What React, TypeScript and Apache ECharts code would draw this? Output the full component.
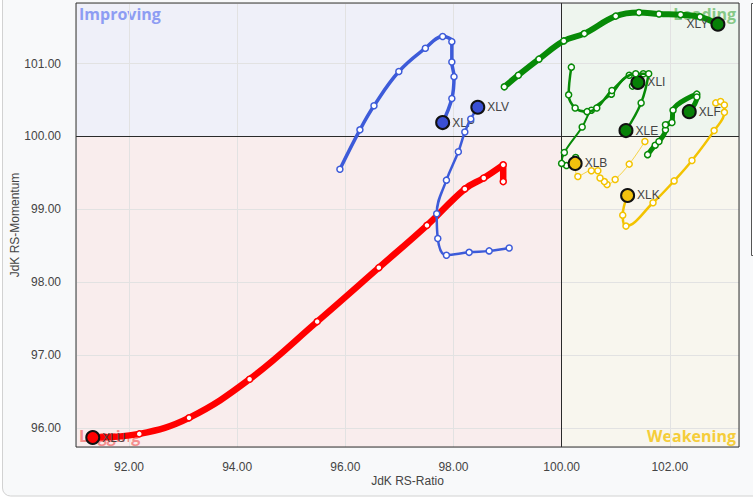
import React, { useEffect, useRef } from "react";
import * as echarts from "echarts";

// Axis bounds (JdK RS-Ratio horizontally, JdK RS-Momentum vertically)
const X_MIN = 91.02;
const X_MAX = 103.28;
const Y_MIN = 95.74;
const Y_MAX = 101.83;
const CENTER = 100;

const QUADRANT_NAMES = ["Improving", "Leading", "Lagging", "Weakening"];

// Trails: oldest point first, last point is the current (head) position
const XLU_RATIO = [98.92, 98.92, 98.56, 98.21, 97.51, 96.62, 95.48, 94.23, 93.11, 92.19, 91.33];
const XLU_MOMENTUM = [99.38, 99.61, 99.43, 99.28, 98.78, 98.2, 97.46, 96.67, 96.14, 95.92, 95.87];

const XLP_RATIO = [95.9, 96.27, 96.53, 96.99, 97.48, 97.8, 97.97, 97.97, 98.01, 97.97, 97.8];
const XLP_MOMENTUM = [99.55, 100.09, 100.42, 100.89, 101.21, 101.37, 101.3, 101.02, 100.82, 100.52, 100.19];

const XLV_RATIO = [99.03, 98.66, 98.29, 97.87, 97.71, 97.69, 97.87, 98.09, 98.21, 98.32, 98.45];
const XLV_MOMENTUM = [98.47, 98.43, 98.41, 98.37, 98.6, 98.94, 99.4, 99.79, 100.06, 100.24, 100.4];

const XLY_RATIO = [98.94, 99.2, 99.58, 100.04, 100.42, 101.0, 101.43, 101.8, 102.2, 102.56, 102.89];
const XLY_MOMENTUM = [100.68, 100.84, 101.06, 101.31, 101.41, 101.65, 101.7, 101.68, 101.67, 101.64, 101.54];

const XLI_RATIO = [100.26, 100.09, 100.0, 100.05, 100.38, 100.55, 100.92, 101.25, 101.51, 101.31, 101.41];
const XLI_MOMENTUM = [99.71, 99.6, 99.63, 99.78, 100.13, 100.36, 100.58, 100.84, 100.86, 100.69, 100.74];

const XLE_RATIO = [100.18, 100.13, 100.25, 100.47, 100.65, 100.93, 101.37, 101.61, 101.47, 101.19];
const XLE_MOMENTUM = [100.95, 100.57, 100.39, 100.34, 100.39, 100.63, 100.86, 100.86, 100.46, 100.08];

const XLF_RATIO = [101.59, 101.73, 101.8, 101.92, 101.92, 102.04, 102.06, 102.5, 102.5, 102.36];
const XLF_MOMENTUM = [99.75, 99.88, 99.93, 100.09, 100.16, 100.19, 100.36, 100.58, 100.54, 100.34];

const XLK_RATIO = [102.85, 102.94, 103.01, 103.01, 102.82, 102.41, 102.08, 101.69, 101.19, 101.13, 101.22];
const XLK_MOMENTUM = [100.46, 100.48, 100.43, 100.33, 100.08, 99.67, 99.39, 99.09, 98.77, 98.92, 99.19];

const XLB_RATIO = [101.54, 101.25, 100.99, 100.84, 100.79, 100.71, 100.67, 100.55, 100.3, 100.25];
const XLB_MOMENTUM = [99.93, 99.62, 99.41, 99.34, 99.38, 99.43, 99.53, 99.53, 99.45, 99.63];

const TICKERS = ["XLU", "XLP", "XLV", "XLY", "XLI", "XLE", "XLF", "XLK", "XLB"];
const RATIOS = [XLU_RATIO, XLP_RATIO, XLV_RATIO, XLY_RATIO, XLI_RATIO, XLE_RATIO, XLF_RATIO, XLK_RATIO, XLB_RATIO];
const MOMENTUMS = [XLU_MOMENTUM, XLP_MOMENTUM, XLV_MOMENTUM, XLY_MOMENTUM, XLI_MOMENTUM, XLE_MOMENTUM, XLF_MOMENTUM, XLK_MOMENTUM, XLB_MOMENTUM];

// styles
const LINE_WIDTH: Record<string, number> = {
  XLU: 6.5, XLP: 3.5, XLV: 2.5, XLY: 6, XLI: 2, XLE: 2.5, XLF: 5, XLK: 2.5, XLB: 1,
};
const LABEL_SIDE: Record<string, string> = { XLY: "left" };
const QUAD_STYLE: Record<string, { line: string; head: string; bg: string; text: string }> = {
  Improving: { line: "#3d5bd9", head: "#3a4fd4", bg: "#eff0f9", text: "#8d9df3" },
  Leading: { line: "#078a07", head: "#078007", bg: "#eef5ee", text: "#86c886" },
  Lagging: { line: "#ff0000", head: "#ff0000", bg: "#f9eded", text: "#f58e8e" },
  Weakening: { line: "#f3c300", head: "#f2c10e", bg: "#f8f6ee", text: "#f5cd3a" },
};
const LINE_ALPHA: Record<string, number> = { XLB: 0.7 };

function quadrantOf(x: number, y: number) {
  if (x >= CENTER && y >= CENTER) return "Leading";
  if (x < CENTER && y >= CENTER) return "Improving";
  if (x < CENTER && y < CENTER) return "Lagging";
  return "Weakening";
}

export default function App() {
  const ref = useRef<HTMLDivElement>(null);
  useEffect(() => {
    if (!ref.current) return;
    const chart = echarts.init(ref.current, undefined, { renderer: "svg" });

    const quadBounds: Record<string, [number, number, number, number]> = {
      Improving: [X_MIN, CENTER, CENTER, Y_MAX],
      Leading: [CENTER, CENTER, X_MAX, Y_MAX],
      Lagging: [X_MIN, Y_MIN, CENTER, CENTER],
      Weakening: [CENTER, Y_MIN, X_MAX, CENTER],
    };
    const quadLabelPos: Record<string, string> = {
      Improving: "insideTopLeft",
      Leading: "insideTopRight",
      Lagging: "insideBottomLeft",
      Weakening: "insideBottomRight",
    };

    const background: any = {
      type: "line",
      name: "quadrants",
      data: [],
      silent: true,
      markArea: {
        silent: true,
        z: 1,
        data: QUADRANT_NAMES.map((q) => {
          const b = quadBounds[q];
          return [
            {
              name: q,
              coord: [b[0], b[1]],
              itemStyle: { color: QUAD_STYLE[q].bg },
              label: {
                show: true,
                position: quadLabelPos[q],
                distance: 3,
                color: QUAD_STYLE[q].text,
                fontFamily: "Open Sans",
                fontWeight: "bold",
                fontSize: 16,
              },
            },
            { coord: [b[2], b[3]] },
          ];
        }),
      },
      markLine: {
        silent: true,
        z: 1.5,
        symbol: "none",
        label: { show: false },
        lineStyle: { color: "#2a2a2a", width: 1, type: "solid" },
        data: [{ xAxis: CENTER }, { yAxis: CENTER }],
      },
    };

    const trails = TICKERS.map((t, i) => {
      const xs = RATIOS[i];
      const ys = MOMENTUMS[i];
      const n = xs.length;
      const q = quadrantOf(xs[n - 1], ys[n - 1]);
      const st = QUAD_STYLE[q];
      const data = xs.map((x, k) => {
        const isHead = k === n - 1;
        if (isHead) {
          return {
            value: [x, ys[k]],
            symbolSize: 13,
            itemStyle: { color: st.head, borderColor: "#111", borderWidth: 2, opacity: 1 },
            label: {
              show: true,
              position: LABEL_SIDE[t] || "right",
              distance: 2,
              formatter: t,
              color: "#444",
              fontSize: 12,
              fontFamily: "Liberation Sans, Arial, sans-serif",
            },
          };
        }
        return {
          value: [x, ys[k]],
          symbolSize: 6,
          itemStyle: { color: "#ffffff", borderColor: st.line, borderWidth: 1.5, opacity: 1 },
        };
      });
      return {
        type: "line",
        name: t,
        z: 2 + i * 0.01,
        data,
        smooth: 0.4,
        symbol: "circle",
        showSymbol: true,
        showAllSymbol: true,
        clip: false,
        lineStyle: { color: st.line, width: LINE_WIDTH[t], opacity: LINE_ALPHA[t] ?? 1, cap: "round", join: "round" },
        itemStyle: { color: st.line },
        emphasis: { disabled: true },
      };
    });

    const labelFont = { fontSize: 12, color: "#444", fontFamily: "Liberation Sans, Arial, sans-serif" };

    chart.setOption({
      animation: false,
      backgroundColor: "#ffffff",
      textStyle: { fontFamily: "Liberation Sans, Arial, sans-serif" },
      graphic: [
        {
          type: "rect",
          z: -10,
          silent: true,
          shape: { x: 2.5, y: -20, width: 800, height: 516, r: 8 },
          style: { fill: "#f8f9fa", stroke: "#d2d2d2", lineWidth: 1 },
        },
        {
          type: "rect",
          z: -9,
          silent: true,
          shape: { x: 751.5, y: 3.5, width: 20, height: 252 },
          style: { fill: "#ffffff", stroke: "#555555", lineWidth: 1 },
        },
      ],
      grid: {
        left: 76,
        top: 3,
        right: 14,
        bottom: 51,
        show: true,
        z: 3,
        containLabel: false,
        outerBoundsMode: "none",
        backgroundColor: "transparent",
        borderColor: "#333",
        borderWidth: 1,
      },
      xAxis: {
        type: "value",
        min: X_MIN,
        max: X_MAX,
        minInterval: 2,
        maxInterval: 2,
        splitNumber: 6,
        z: 1.2,
        name: "JdK RS-Ratio",
        nameLocation: "middle",
        nameGap: 28,
        nameMoveOverlap: false,
        nameTextStyle: { ...labelFont },
        axisLine: { show: false },
        axisTick: { show: false },
        axisLabel: {
          ...labelFont,
          margin: 14,
          showMinLabel: false,
          showMaxLabel: false,
          formatter: (v: number) => v.toFixed(2),
        },
        splitLine: { show: true, lineStyle: { color: "#e2e2e2", width: 1 } },
      },
      yAxis: {
        type: "value",
        min: Y_MIN,
        max: Y_MAX,
        minInterval: 1,
        maxInterval: 1,
        splitNumber: 6,
        z: 1.2,
        name: "JdK RS-Momentum",
        nameLocation: "middle",
        nameGap: 55,
        nameMoveOverlap: false,
        nameTextStyle: { ...labelFont },
        axisLine: { show: false },
        axisTick: { show: false },
        axisLabel: {
          ...labelFont,
          margin: 15,
          showMinLabel: false,
          showMaxLabel: false,
          formatter: (v: number) => v.toFixed(2),
        },
        splitLine: { show: true, lineStyle: { color: "#e2e2e2", width: 1 } },
      },
      series: [background, ...trails],
    });
    return () => chart.dispose();
  }, []);

  return (
    <div
      ref={ref}
      style={{ position: "fixed", left: 0, top: 0, width: 753, height: 498 }}
    />
  );
}
